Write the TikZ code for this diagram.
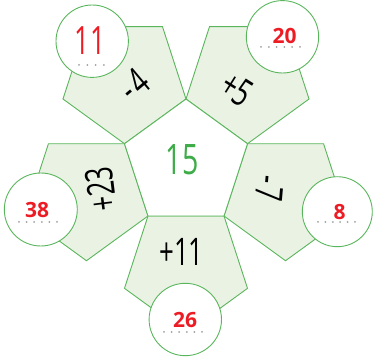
\documentclass[tikz,border=0pt]{standalone}
\usepackage{fontspec}
\setmainfont{Open Sans}
\usetikzlibrary{calc}
\definecolor{petalfill}{RGB}{234,242,228}
\definecolor{petalline}{RGB}{90,182,92}
\definecolor{ansred}{RGB}{237,28,36}
\definecolor{midgreen}{RGB}{62,172,72}
\definecolor{dotgray}{RGB}{160,160,160}
\newcommand{\narrow}[1]{\scalebox{0.68}[1]{#1}}
\begin{document}
\begin{tikzpicture}[x=1pt,y=1pt,
  petal/.style={draw=petalline, fill=petalfill, line width=0.9pt, line join=miter},
  ring/.style={circle, draw=petalline, fill=white, line width=0.9pt, inner sep=0pt},
  optext/.style={font=\fontsize{38}{38}\selectfont, text=black, inner sep=0pt},
  anstext/.style={font=\bfseries\fontsize{21}{21}\selectfont, text=ansred, inner sep=0pt},
  blankdot/.style={fill=dotgray}]
\useasboundingbox (0,0) rectangle (373,362);
\coordinate (C) at (186,198.3);
\def\R{64.68}
% outer petals (pentagons pointing towards the centre)
\foreach \a/\n in {126/pA,54/pB,198/pC,270/pD,342/pE}{
  \coordinate (\n) at ($(C)+(\a:104.66)$);
  \draw[petal] ($(\n)+(270:\R)$) -- ($(\n)+(342:\R)$) -- ($(\n)+(54:\R)$)
     -- ($(\n)+(126:\R)$) -- ($(\n)+(198:\R)$) -- cycle;
}
% central pentagon
\draw[petal, fill=white] ($(C)+(90:\R)$) -- ($(C)+(162:\R)$) -- ($(C)+(234:\R)$)
   -- ($(C)+(306:\R)$) -- ($(C)+(18:\R)$) -- cycle;
% circles
\node[ring, minimum size=72.4pt] (cA) at (92.2,320.8) {};
\node[ring, minimum size=72.4pt] (cB) at (282.5,325.2) {};
\node[ring, minimum size=73pt] (cC) at (40.8,152.5) {};
\node[ring, minimum size=72.4pt] (cD) at (185.3,42.5) {};
\node[ring, minimum size=70pt] (cE) at (337.3,150.3) {};
% dotted blanks
\foreach \i in {0,...,3} \fill[blankdot] (79+\i*8.3,297) circle (1);
\foreach \i in {0,...,5} \fill[blankdot] (261+\i*7.8,315) circle (1);
\foreach \i in {0,...,5} \fill[blankdot] (19+\i*7.6,140) circle (1);
\foreach \i in {0,...,5} \fill[blankdot] (164+\i*7.6,30) circle (1);
\foreach \i in {0,...,5} \fill[blankdot] (318+\i*7.4,140) circle (1);
% numbers in circles
\node[optext, text=ansred, font=\fontsize{39}{39}\selectfont] (tA) at (90,321) {\narrow{11}};
\node[anstext] (tB) at (284.5,326.5) {20};
\node[anstext] (tC) at (37,151.5) {38};
\node[anstext] (tD) at (185,42) {26};
\node[anstext] (tE) at (339.5,149.5) {8};
% operations
\node[optext, rotate=40] (oA) at (134,277) {\narrow{-\kern4pt 4}};
\node[optext, rotate=-32] (oB) at (237,273) {\narrow{+5}};
\node[optext, rotate=97] (oC) at (101,173) {\narrow{+23}};
\node[optext, rotate=-95] (oE) at (270,173) {\narrow{-\kern4pt 7}};
\node[optext] (oD) at (181.5,110.5) {\narrow{+11}};
% centre
\node[optext, text=midgreen, font=\fontsize{42}{42}\selectfont] (mid) at (182,202) {\narrow{15}};
\end{tikzpicture}
\end{document}
